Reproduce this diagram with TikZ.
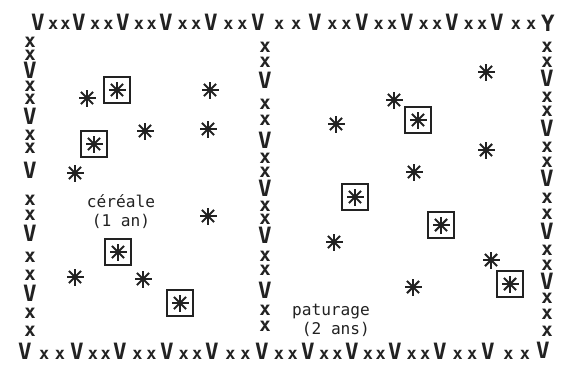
\documentclass[tikz,border=0pt]{standalone}
\usepackage{fontspec}
\setmonofont{DejaVu Sans Mono}
\usepackage{tikz}
\definecolor{inkDark}{HTML}{222222}

\begin{document}
\begin{tikzpicture}[x=0.25mm, y=-0.25mm,
    hedge/.style={font=\ttfamily\bfseries\fontsize{16}{16}\selectfont,
                  inner sep=0pt, text=inkDark},
    wire/.style={font=\ttfamily\bfseries\fontsize{12}{12}\selectfont,
                 inner sep=0pt, text=inkDark},
    post/.style={font=\ttfamily\bfseries\fontsize{13.5}{13.5}\selectfont,
                 inner sep=0pt, text=inkDark},
    fieldname/.style={font=\ttfamily\fontsize{11.5}{13.5}\selectfont,
                      align=center, inner sep=0pt, text=inkDark},
    plant/.pic={\foreach \r in {0,45,90,135}
                  \draw[inkDark, line width=1.5pt] (\r:8.5) -- (\r+180:8.5);},
    boxedplant/.pic={\draw[inkDark, line width=1.1pt] (-13,-13) rectangle (13,13);
                     \foreach \r in {0,45,90,135}
                       \draw[inkDark, line width=1.5pt] (\r:8.5) -- (\r+180:8.5);}]
  \useasboundingbox (0,0) rectangle (563,364);

  % top and bottom hedges
  \foreach \a/\b [count=\i] in {38/79,79/123,123/166,166/211,211/258,258/315,
                                315/362,362/407,407/452,452/497,497/548} {
    \node[hedge] (top\i) at (\a,22) {V};
    \node[wire] at ({\a+(\b-\a)*0.37},25) {x};
    \node[wire] at ({\a+(\b-\a)*0.67},25) {x};
  }
  \node[hedge] (topend) at (548,23) {Y};
  \foreach \a/\b [count=\i] in {25/77,77/120,120/167,167/212,212/262,262/308,
                                308/352,352/395,395/440,440/488,488/543} {
    \node[hedge] (bot\i) at (\a,351) {V};
    \node[wire] at ({\a+(\b-\a)*0.37},355) {x};
    \node[wire] at ({\a+(\b-\a)*0.67},355) {x};
  }
  \node[hedge] (botend) at (543,350) {V};

  % side and middle hedges
  \foreach \y/\c in {42/x,55/x,70/V,86/x,99/x,116/V,135/x,148/x,170/V,200/x,
                     215/x,233/V,257/x,275/x,293/V,313/x,331/x}
    \node[\if x\c post\else hedge\fi] at (30,\y) {\c};
  \foreach \y/\c in {47/x,62/x,80/V,104/x,120/x,140/V,158/x,172/x,188/V,206/x,
                     219/x,235/V,256/x,270/x,290/V,310/x,326/x}
    \node[\if x\c post\else hedge\fi] at (265,\y) {\c};
  \foreach \y/\c in {47/x,62/x,78/V,97/x,111/x,128/V,147/x,162/x,178/V,198/x,
                     214/x,231/V,250/x,265/x,281/V,298/x,314/x,331/x}
    \node[\if x\c post\else hedge\fi] at (547,\y) {\c};

  % plants
  \foreach \px/\py in {87/98,210/90,145/131,208/129,75/173,208/216,75/277,
                       143/279,486/72,394/100,336/124,486/150,414/172,
                       334/242,491/260,413/287}
    \pic at (\px,\py) {plant};
  \foreach \px/\py in {117/90,94/144,118/252,180/303,418/120,355/197,
                       441/225,510/284}
    \pic at (\px,\py) {boxedplant};

  \node[fieldname] (cereal) at (121,212) {céréale\\(1 an)};
  \node[fieldname] (pasture) at (331,320) {paturage\\\ (2 ans)};
\end{tikzpicture}
\end{document}
